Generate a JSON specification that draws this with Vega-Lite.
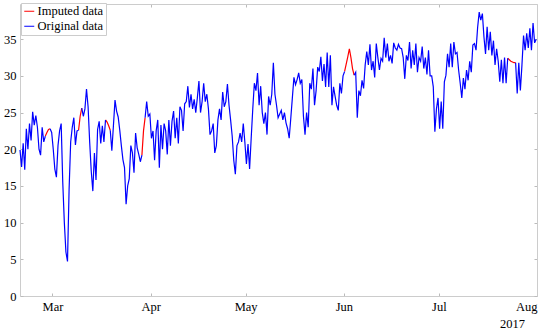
{
"$schema":"https://vega.github.io/schema/vega-lite/v6.json",
"width":517,"height":292,
"autosize":{"type":"none"},
"padding":{"left":20,"top":4,"right":13,"bottom":36},
"background":"white",
"config":{
"view":{"stroke":null},
"axis":{"labelFont":"Liberation Serif","labelFontSize":12.5,"labelColor":"#000","domainColor":"#cccccc","tickColor":"#bbbbbb","tickSize":-3,"labelPadding":7,"grid":false,"titleFont":"Liberation Serif","titleFontSize":12.5,"titleFontWeight":"normal","titleColor":"#000"},
"legend":{"labelFont":"Liberation Serif","labelFontSize":12.5,"labelColor":"#000"}
},
"datasets":{
"o":[
{"t":"2017-02-18T18:00","v":19.9},
{"t":"2017-02-19T06:00","v":17.6},{"t":"2017-02-19T18:00","v":20.8},
{"t":"2017-02-20T06:00","v":17.2},{"t":"2017-02-20T18:00","v":22.8},
{"t":"2017-02-21T06:00","v":20.0},{"t":"2017-02-21T18:00","v":23.5},
{"t":"2017-02-22T06:00","v":21.2},{"t":"2017-02-22T18:00","v":25.1},
{"t":"2017-02-23T06:00","v":23.3},{"t":"2017-02-23T18:00","v":24.6},
{"t":"2017-02-24T06:00","v":23.0},{"t":"2017-02-24T18:00","v":20.0},
{"t":"2017-02-25T06:00","v":19.2},{"t":"2017-02-25T18:00","v":23.0},
{"t":"2017-02-26T06:00","v":21.0},{"t":"2017-02-26T18:00","v":21.8},
{"t":"2017-02-27T06:00","v":null},{"t":"2017-02-27T18:00","v":null},
{"t":"2017-02-28T06:00","v":22.8},{"t":"2017-02-28T18:00","v":22.3},
{"t":"2017-03-01T06:00","v":20.0},{"t":"2017-03-01T18:00","v":17.3},
{"t":"2017-03-02T06:00","v":16.2},{"t":"2017-03-02T18:00","v":20.5},
{"t":"2017-03-03T06:00","v":22.5},{"t":"2017-03-03T18:00","v":23.5},
{"t":"2017-03-04T06:00","v":15.5},{"t":"2017-03-04T18:00","v":10.0},
{"t":"2017-03-05T06:00","v":6.0},{"t":"2017-03-05T18:00","v":4.7},
{"t":"2017-03-06T06:00","v":14.5},{"t":"2017-03-06T18:00","v":21.0},
{"t":"2017-03-07T06:00","v":23.0},{"t":"2017-03-07T18:00","v":24.3},
{"t":"2017-03-08T06:00","v":20.6},{"t":"2017-03-08T18:00","v":22.5},
{"t":"2017-03-09T06:00","v":22.6},{"t":"2017-03-09T18:00","v":null},
{"t":"2017-03-10T06:00","v":25.6},{"t":"2017-03-10T18:00","v":24.5},
{"t":"2017-03-11T06:00","v":25.5},{"t":"2017-03-11T18:00","v":28.2},
{"t":"2017-03-12T06:00","v":25.8},{"t":"2017-03-12T18:00","v":21.0},
{"t":"2017-03-13T06:00","v":17.0},{"t":"2017-03-13T18:00","v":14.3},
{"t":"2017-03-14T06:00","v":19.5},{"t":"2017-03-14T18:00","v":15.8},
{"t":"2017-03-15T06:00","v":22.7},{"t":"2017-03-15T18:00","v":23.8},
{"t":"2017-03-16T06:00","v":20.8},{"t":"2017-03-16T18:00","v":23.2},
{"t":"2017-03-17T06:00","v":21.0},{"t":"2017-03-17T18:00","v":24.0},
{"t":"2017-03-18T06:00","v":null},{"t":"2017-03-18T18:00","v":null},
{"t":"2017-03-19T06:00","v":22.6},{"t":"2017-03-19T18:00","v":19.8},
{"t":"2017-03-20T06:00","v":23.2},{"t":"2017-03-20T18:00","v":26.7},
{"t":"2017-03-21T06:00","v":25.2},{"t":"2017-03-21T18:00","v":24.4},
{"t":"2017-03-22T06:00","v":22.6},{"t":"2017-03-22T18:00","v":20.5},
{"t":"2017-03-23T06:00","v":18.6},{"t":"2017-03-23T18:00","v":17.5},
{"t":"2017-03-24T06:00","v":12.5},{"t":"2017-03-24T18:00","v":15.0},
{"t":"2017-03-25T06:00","v":16.0},{"t":"2017-03-25T18:00","v":20.5},
{"t":"2017-03-26T06:00","v":19.5},{"t":"2017-03-26T18:00","v":16.8},
{"t":"2017-03-27T06:00","v":22.2},{"t":"2017-03-27T18:00","v":20.2},
{"t":"2017-03-28T06:00","v":19.3},{"t":"2017-03-28T18:00","v":18.3},
{"t":"2017-03-29T06:00","v":19.2},{"t":"2017-03-29T18:00","v":null},
{"t":"2017-03-30T06:00","v":24.3},{"t":"2017-03-30T18:00","v":26.5},
{"t":"2017-03-31T06:00","v":24.5},{"t":"2017-03-31T18:00","v":24.8},
{"t":"2017-04-01T06:00","v":21.5},{"t":"2017-04-01T18:00","v":22.5},
{"t":"2017-04-02T06:00","v":18.5},{"t":"2017-04-02T18:00","v":22.5},
{"t":"2017-04-03T06:00","v":24.0},{"t":"2017-04-03T18:00","v":17.5},
{"t":"2017-04-04T06:00","v":23.3},{"t":"2017-04-04T18:00","v":20.0},
{"t":"2017-04-05T06:00","v":23.5},{"t":"2017-04-05T18:00","v":22.5},
{"t":"2017-04-06T06:00","v":19.3},{"t":"2017-04-06T18:00","v":24.0},
{"t":"2017-04-07T06:00","v":20.5},{"t":"2017-04-07T18:00","v":23.8},
{"t":"2017-04-08T06:00","v":25.2},{"t":"2017-04-08T18:00","v":21.5},
{"t":"2017-04-09T06:00","v":24.3},{"t":"2017-04-09T18:00","v":20.8},
{"t":"2017-04-10T06:00","v":25.8},{"t":"2017-04-10T18:00","v":25.3},
{"t":"2017-04-11T06:00","v":22.5},{"t":"2017-04-11T18:00","v":26.2},
{"t":"2017-04-12T06:00","v":26.5},{"t":"2017-04-12T18:00","v":28.6},
{"t":"2017-04-13T06:00","v":25.7},{"t":"2017-04-13T18:00","v":27.5},
{"t":"2017-04-14T06:00","v":25.5},{"t":"2017-04-14T18:00","v":26.8},
{"t":"2017-04-15T06:00","v":25.0},{"t":"2017-04-15T18:00","v":27.0},
{"t":"2017-04-16T06:00","v":29.3},{"t":"2017-04-16T18:00","v":25.0},
{"t":"2017-04-17T06:00","v":26.5},{"t":"2017-04-17T18:00","v":29.0},
{"t":"2017-04-18T06:00","v":26.5},{"t":"2017-04-18T18:00","v":27.5},
{"t":"2017-04-19T06:00","v":25.5},{"t":"2017-04-19T18:00","v":22.0},
{"t":"2017-04-20T06:00","v":22.5},{"t":"2017-04-20T18:00","v":23.5},
{"t":"2017-04-21T06:00","v":19.5},{"t":"2017-04-21T18:00","v":20.5},
{"t":"2017-04-22T06:00","v":24.0},{"t":"2017-04-22T18:00","v":25.5},
{"t":"2017-04-23T06:00","v":24.0},{"t":"2017-04-23T18:00","v":27.8},
{"t":"2017-04-24T06:00","v":25.8},{"t":"2017-04-24T18:00","v":26.5},
{"t":"2017-04-25T06:00","v":28.9},{"t":"2017-04-25T18:00","v":26.0},
{"t":"2017-04-26T06:00","v":24.0},{"t":"2017-04-26T18:00","v":21.8},
{"t":"2017-04-27T06:00","v":18.5},{"t":"2017-04-27T18:00","v":16.6},
{"t":"2017-04-28T06:00","v":20.5},{"t":"2017-04-28T18:00","v":21.0},
{"t":"2017-04-29T06:00","v":22.2},{"t":"2017-04-29T18:00","v":21.0},
{"t":"2017-04-30T06:00","v":23.5},{"t":"2017-04-30T18:00","v":21.0},
{"t":"2017-05-01T06:00","v":18.0},{"t":"2017-05-01T18:00","v":20.7},
{"t":"2017-05-02T06:00","v":17.3},{"t":"2017-05-02T18:00","v":21.5},
{"t":"2017-05-03T06:00","v":25.5},{"t":"2017-05-03T18:00","v":29.0},
{"t":"2017-05-04T06:00","v":28.0},{"t":"2017-05-04T18:00","v":30.4},
{"t":"2017-05-05T06:00","v":26.0},{"t":"2017-05-05T18:00","v":28.6},
{"t":"2017-05-06T06:00","v":25.0},{"t":"2017-05-06T18:00","v":23.5},
{"t":"2017-05-07T06:00","v":25.0},{"t":"2017-05-07T18:00","v":22.0},
{"t":"2017-05-08T06:00","v":27.2},{"t":"2017-05-08T18:00","v":26.0},
{"t":"2017-05-09T06:00","v":27.5},{"t":"2017-05-09T18:00","v":31.8},
{"t":"2017-05-10T06:00","v":27.5},{"t":"2017-05-10T18:00","v":26.0},
{"t":"2017-05-11T06:00","v":24.3},{"t":"2017-05-11T18:00","v":24.8},
{"t":"2017-05-12T06:00","v":25.3},{"t":"2017-05-12T18:00","v":24.0},
{"t":"2017-05-13T06:00","v":25.0},{"t":"2017-05-13T18:00","v":23.6},
{"t":"2017-05-14T06:00","v":22.8},{"t":"2017-05-14T18:00","v":21.5},
{"t":"2017-05-15T06:00","v":24.2},{"t":"2017-05-15T18:00","v":27.0},
{"t":"2017-05-16T06:00","v":29.8},{"t":"2017-05-16T18:00","v":28.8},
{"t":"2017-05-17T06:00","v":29.5},{"t":"2017-05-17T18:00","v":30.4},
{"t":"2017-05-18T06:00","v":29.0},{"t":"2017-05-18T18:00","v":29.5},
{"t":"2017-05-19T06:00","v":24.5},{"t":"2017-05-19T18:00","v":22.0},
{"t":"2017-05-20T06:00","v":25.0},{"t":"2017-05-20T18:00","v":23.0},
{"t":"2017-05-21T06:00","v":29.0},{"t":"2017-05-21T18:00","v":28.2},
{"t":"2017-05-22T06:00","v":31.0},{"t":"2017-05-22T18:00","v":26.0},
{"t":"2017-05-23T06:00","v":28.0},{"t":"2017-05-23T18:00","v":31.2},
{"t":"2017-05-24T06:00","v":30.6},{"t":"2017-05-24T18:00","v":32.6},
{"t":"2017-05-25T06:00","v":29.3},{"t":"2017-05-25T18:00","v":31.6},
{"t":"2017-05-26T06:00","v":28.5},{"t":"2017-05-26T18:00","v":33.2},
{"t":"2017-05-27T06:00","v":28.5},{"t":"2017-05-27T18:00","v":32.8},
{"t":"2017-05-28T06:00","v":26.0},{"t":"2017-05-28T18:00","v":28.5},
{"t":"2017-05-29T06:00","v":27.2},{"t":"2017-05-29T18:00","v":26.0},
{"t":"2017-05-30T06:00","v":25.3},{"t":"2017-05-30T18:00","v":29.0},
{"t":"2017-05-31T06:00","v":27.6},{"t":"2017-05-31T18:00","v":30.0},
{"t":"2017-06-01T06:00","v":30.6},{"t":"2017-06-01T18:00","v":null},
{"t":"2017-06-02T06:00","v":null},{"t":"2017-06-02T18:00","v":null},
{"t":"2017-06-03T06:00","v":null},{"t":"2017-06-03T18:00","v":null},
{"t":"2017-06-04T06:00","v":30.1},{"t":"2017-06-04T18:00","v":30.5},
{"t":"2017-06-05T06:00","v":24.3},{"t":"2017-06-05T18:00","v":28.0},
{"t":"2017-06-06T06:00","v":27.3},{"t":"2017-06-06T18:00","v":29.4},
{"t":"2017-06-07T06:00","v":28.3},{"t":"2017-06-07T18:00","v":31.5},
{"t":"2017-06-08T06:00","v":33.3},{"t":"2017-06-08T18:00","v":31.5},
{"t":"2017-06-09T06:00","v":34.3},{"t":"2017-06-09T18:00","v":30.8},
{"t":"2017-06-10T06:00","v":32.0},{"t":"2017-06-10T18:00","v":29.8},
{"t":"2017-06-11T06:00","v":34.4},{"t":"2017-06-11T18:00","v":32.5},
{"t":"2017-06-12T06:00","v":30.8},{"t":"2017-06-12T18:00","v":32.4},
{"t":"2017-06-13T06:00","v":32.0},{"t":"2017-06-13T18:00","v":35.2},
{"t":"2017-06-14T06:00","v":32.5},{"t":"2017-06-14T18:00","v":34.4},
{"t":"2017-06-15T06:00","v":32.0},{"t":"2017-06-15T18:00","v":32.8},
{"t":"2017-06-16T06:00","v":31.7},{"t":"2017-06-16T18:00","v":34.5},
{"t":"2017-06-17T06:00","v":33.8},{"t":"2017-06-17T18:00","v":33.5},
{"t":"2017-06-18T06:00","v":34.3},{"t":"2017-06-18T18:00","v":33.8},
{"t":"2017-06-19T06:00","v":33.7},{"t":"2017-06-19T18:00","v":32.5},
{"t":"2017-06-20T06:00","v":29.6},{"t":"2017-06-20T18:00","v":32.8},
{"t":"2017-06-21T06:00","v":32.1},{"t":"2017-06-21T18:00","v":34.6},
{"t":"2017-06-22T06:00","v":31.0},{"t":"2017-06-22T18:00","v":33.5},
{"t":"2017-06-23T06:00","v":31.5},{"t":"2017-06-23T18:00","v":34.4},
{"t":"2017-06-24T06:00","v":30.5},{"t":"2017-06-24T18:00","v":32.5},
{"t":"2017-06-25T06:00","v":32.0},{"t":"2017-06-25T18:00","v":34.0},
{"t":"2017-06-26T06:00","v":31.0},{"t":"2017-06-26T18:00","v":32.5},
{"t":"2017-06-27T06:00","v":30.2},{"t":"2017-06-27T18:00","v":33.5},
{"t":"2017-06-28T06:00","v":30.0},{"t":"2017-06-28T18:00","v":30.0},
{"t":"2017-06-29T06:00","v":28.5},{"t":"2017-06-29T18:00","v":22.4},
{"t":"2017-06-30T06:00","v":25.5},{"t":"2017-06-30T18:00","v":27.0},
{"t":"2017-07-01T06:00","v":22.8},{"t":"2017-07-01T18:00","v":26.5},
{"t":"2017-07-02T06:00","v":22.8},{"t":"2017-07-02T18:00","v":29.2},
{"t":"2017-07-03T06:00","v":30.1},{"t":"2017-07-03T18:00","v":33.0},
{"t":"2017-07-04T06:00","v":31.2},{"t":"2017-07-04T18:00","v":34.4},
{"t":"2017-07-05T06:00","v":31.2},{"t":"2017-07-05T18:00","v":34.6},
{"t":"2017-07-06T06:00","v":33.0},{"t":"2017-07-06T18:00","v":33.2},
{"t":"2017-07-07T06:00","v":30.8},{"t":"2017-07-07T18:00","v":29.0},
{"t":"2017-07-08T06:00","v":27.0},{"t":"2017-07-08T18:00","v":29.7},
{"t":"2017-07-09T06:00","v":28.2},{"t":"2017-07-09T18:00","v":30.8},
{"t":"2017-07-10T06:00","v":29.4},{"t":"2017-07-10T18:00","v":32.0},
{"t":"2017-07-11T06:00","v":30.5},{"t":"2017-07-11T18:00","v":34.2},
{"t":"2017-07-12T06:00","v":34.4},{"t":"2017-07-12T18:00","v":33.5},
{"t":"2017-07-13T06:00","v":36.6},{"t":"2017-07-13T18:00","v":38.7},
{"t":"2017-07-14T06:00","v":37.6},{"t":"2017-07-14T18:00","v":38.5},
{"t":"2017-07-15T06:00","v":35.3},{"t":"2017-07-15T18:00","v":33.0},
{"t":"2017-07-16T06:00","v":36.7},{"t":"2017-07-16T18:00","v":33.5},
{"t":"2017-07-17T06:00","v":36.0},{"t":"2017-07-17T18:00","v":32.8},
{"t":"2017-07-18T06:00","v":34.8},{"t":"2017-07-18T18:00","v":31.5},
{"t":"2017-07-19T06:00","v":33.7},{"t":"2017-07-19T18:00","v":32.0},
{"t":"2017-07-20T06:00","v":29.2},{"t":"2017-07-20T18:00","v":32.2},
{"t":"2017-07-21T06:00","v":29.0},{"t":"2017-07-21T18:00","v":32.5},
{"t":"2017-07-22T06:00","v":29.0},{"t":"2017-07-22T18:00","v":32.4},
{"t":"2017-07-23T06:00","v":null},{"t":"2017-07-23T18:00","v":null},
{"t":"2017-07-24T06:00","v":null},{"t":"2017-07-24T18:00","v":null},
{"t":"2017-07-25T06:00","v":31.8},{"t":"2017-07-25T18:00","v":27.6},
{"t":"2017-07-26T06:00","v":31.8},{"t":"2017-07-26T18:00","v":28.0},
{"t":"2017-07-27T06:00","v":31.5},{"t":"2017-07-27T18:00","v":35.5},
{"t":"2017-07-28T06:00","v":33.5},{"t":"2017-07-28T18:00","v":35.8},
{"t":"2017-07-29T06:00","v":33.8},{"t":"2017-07-29T18:00","v":36.5},
{"t":"2017-07-30T06:00","v":33.5},{"t":"2017-07-30T18:00","v":37.2},
{"t":"2017-07-31T06:00","v":34.5},{"t":"2017-07-31T18:00","v":35.0}
],
"r":[
{"t":"2017-02-26T18:00","v":21.8,"g":1},{"t":"2017-02-27T06:00","v":22.3,"g":1},{"t":"2017-02-27T18:00","v":22.7,"g":1},{"t":"2017-02-28T06:00","v":22.8,"g":1},
{"t":"2017-03-09T06:00","v":22.6,"g":2},{"t":"2017-03-09T18:00","v":24.5,"g":2},{"t":"2017-03-10T06:00","v":25.6,"g":2},
{"t":"2017-03-17T18:00","v":24.0,"g":3},{"t":"2017-03-18T06:00","v":23.7,"g":3},{"t":"2017-03-18T18:00","v":23.2,"g":3},{"t":"2017-03-19T06:00","v":22.6,"g":3},
{"t":"2017-03-29T06:00","v":19.2,"g":4},{"t":"2017-03-29T18:00","v":22.5,"g":4},{"t":"2017-03-30T06:00","v":24.3,"g":4},
{"t":"2017-06-01T06:00","v":30.6,"g":5},{"t":"2017-06-01T18:00","v":31.6,"g":5},{"t":"2017-06-02T06:00","v":32.6,"g":5},{"t":"2017-06-02T18:00","v":33.7,"g":5},{"t":"2017-06-03T06:00","v":32.5,"g":5},{"t":"2017-06-03T18:00","v":31.0,"g":5},{"t":"2017-06-04T06:00","v":30.1,"g":5},
{"t":"2017-07-22T18:00","v":32.4,"g":6},{"t":"2017-07-23T06:00","v":32.2,"g":6},{"t":"2017-07-23T18:00","v":32.0,"g":6},{"t":"2017-07-24T06:00","v":31.9,"g":6},{"t":"2017-07-24T18:00","v":31.8,"g":6},{"t":"2017-07-25T06:00","v":31.8,"g":6}
]
},
"resolve":{"axis":{"x":"independent","y":"independent"}},
"layer":[
{
"data":{"name":"r"},
"mark":{"type":"line","strokeWidth":1.2,"interpolate":"linear"},
"encoding":{
"x":{"field":"t","type":"temporal","scale":{"domain":[{"year":2017,"month":2,"date":18,"hours":18},{"year":2017,"month":8,"date":1}]},
"axis":{"orient":"top","labels":false,"title":null,"values":[{"year":2017,"month":3,"date":1},{"year":2017,"month":4,"date":1},{"year":2017,"month":5,"date":1},{"year":2017,"month":6,"date":1},{"year":2017,"month":7,"date":1},{"year":2017,"month":8,"date":1}]}},
"y":{"field":"v","type":"quantitative","scale":{"domain":[0,39.8],"nice":false,"zero":false},
"axis":{"orient":"right","labels":false,"title":null,"values":[0,5,10,15,20,25,30,35]}},
"detail":{"field":"g"},
"color":{"datum":"Imputed data","scale":{"domain":["Imputed data","Original data"],"range":["#ff0000","#0000ff"]},
"legend":{"title":null,"orient":"none","legendX":1,"legendY":-1,"direction":"vertical","symbolType":"stroke","symbolSize":100,"symbolStrokeWidth":1,"strokeColor":"#cccccc","fillColor":"white","padding":2,"rowPadding":2,"labelOffset":2,"labelLimit":200}}
}
},
{
"data":{"name":"o"},
"mark":{"type":"line","strokeWidth":1.2,"interpolate":"linear","invalid":"break-paths-filter-domains"},
"encoding":{
"x":{"field":"t","type":"temporal",
"axis":{"orient":"bottom","format":"%b","title":"2017","titleX":492,"titleY":31,"titleAlign":"center","titleBaseline":"alphabetic","values":[{"year":2017,"month":3,"date":1},{"year":2017,"month":4,"date":1},{"year":2017,"month":5,"date":1},{"year":2017,"month":6,"date":1},{"year":2017,"month":7,"date":1},{"year":2017,"month":8,"date":1}]}},
"y":{"field":"v","type":"quantitative",
"axis":{"orient":"left","title":null,"values":[0,5,10,15,20,25,30,35]}},
"color":{"datum":"Original data"}
}
}
]
}
